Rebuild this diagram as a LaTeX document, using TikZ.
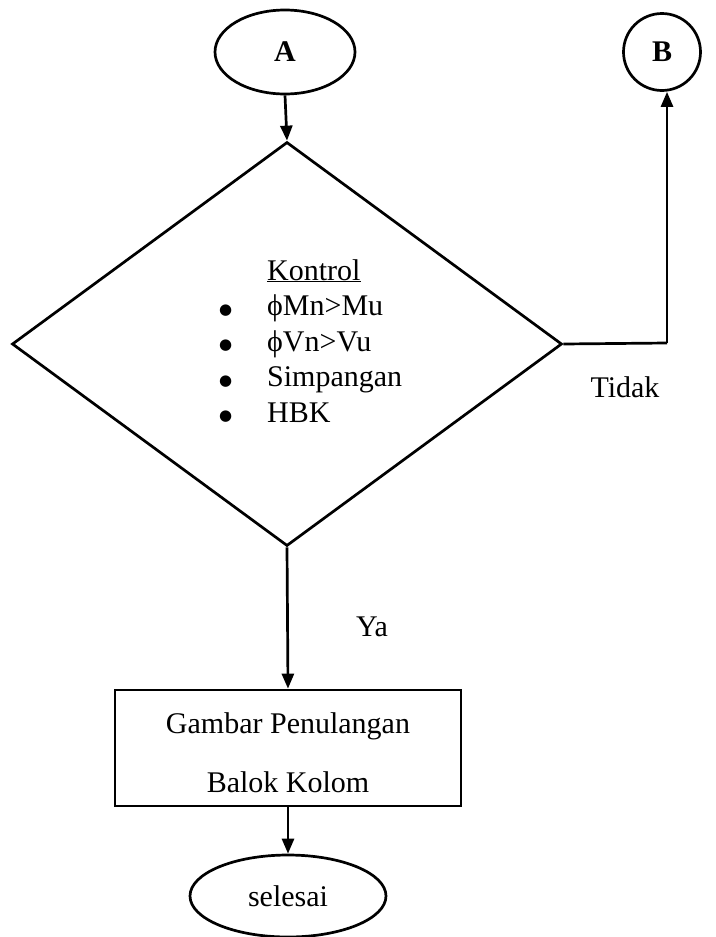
\documentclass[tikz,border=0pt]{standalone}
\usepackage{fontspec}
\setmainfont{Liberation Serif}
\newfontfamily\dvsans{DejaVu Sans}
\newcommand{\bigdot}{\raisebox{1.5pt}{\dvsans\fontsize{15}{15}\selectfont ●}}
\usetikzlibrary{shapes.geometric,arrows.meta}
\begin{document}
\begin{tikzpicture}[x=1pt,y=-1pt,
  every node/.style={font=\fontsize{30}{36}\selectfont, inner sep=0pt},
  ln/.style={line width=2.7pt},
  arr/.style={line width=2.7pt, -{Triangle[length=15pt,width=12pt]}},
  term/.style={ellipse, draw, line width=2.7pt},
  lbl/.style={anchor=base}]
\useasboundingbox (0,0) rectangle (715,937);
% terminals
\node[term, minimum width=140pt, minimum height=84pt] (A) at (285,52) {\textbf{A}};
\node[circle, draw, line width=2.7pt, minimum size=77pt] (B) at (662,52) {\textbf{B}};
% decision
\node[diamond, draw, line width=2.7pt, minimum width=550pt, minimum height=404pt] (D) at (287,344) {};
\node[anchor=base west] (K) at (219,280) {\fontsize{30}{35.5}\selectfont
  \begin{tabular}[t]{@{}p{48pt}@{}l@{}}
  & \underline{Kontrol}\\
  \bigdot & ϕMn>Mu\\
  \bigdot & ϕVn>Vu\\
  \bigdot & Simpangan\\
  \bigdot & HBK
  \end{tabular}};
\coordinate (c1) at (667,343);
\node[lbl] (tidak) at (625,397) {Tidak};
\node[lbl] (ya) at (372,636) {Ya};
% process box
\node[draw, line width=2.7pt, minimum width=346pt, minimum height=116pt] (box) at (288,748) {};
\node[lbl] (t1) at (288,733) {Gambar Penulangan};
\node[lbl] (t2) at (288,792) {Balok Kolom};
% end
\node[term, minimum width=196pt, minimum height=82pt] (S) at (288,896) {selesai};
% connectors
\draw[arr] (A.south) -- (D.north);
\draw[ln] (D.east) -- (c1);
\draw[arr] (c1) -- (c1 |- B.south);
\draw[arr] (D.south) -- (box.north);
\draw[arr] (box.south) -- (S.north);
\end{tikzpicture}
\end{document}
